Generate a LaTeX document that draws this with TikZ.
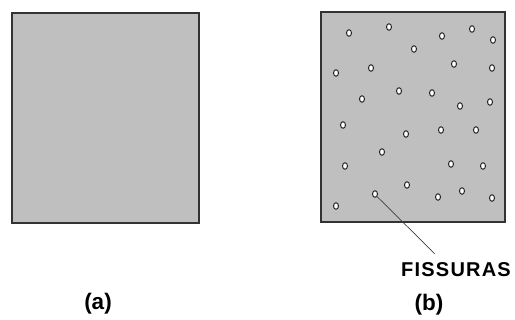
\documentclass[tikz,border=0pt]{standalone}
\usepackage{fontspec}
\usetikzlibrary{shapes.geometric}
\setmainfont{Liberation Sans}
\newfontfamily\lblfont[LetterSpace=6]{Liberation Sans}
\begin{document}
\begin{tikzpicture}[x=1pt,y=-1pt,
  panel/.style={draw=black!80,line width=1.3pt,fill=black!25},
  pore/.style={draw=black!85,fill=white,line width=1pt,ellipse,inner sep=0pt,minimum width=5pt,minimum height=6.5pt},
  sublabel/.style={font=\bfseries\fontsize{22.5}{26}\selectfont,inner sep=0pt},
  leader/.style={draw=black!75,line width=0.7pt}]
\useasboundingbox (0,0) rectangle (515,320);
\draw[panel] (12,13) rectangle (199,223);
\draw[panel] (321,12) rectangle (505,222);
\foreach \i/\x/\y in {1/349/33,2/389/27,3/442/36,4/472/29,5/493/40,6/414/49,7/336/73,8/371/68,9/454/64,10/492/68,11/362/99,12/399/91,13/432/93,14/460/106,15/490/102,16/343/125,17/406/134,18/441/130,19/476/130,20/382/152,21/345/166,22/451/164,23/483/166,24/407/185,26/438/197,27/462/191,28/492/198,29/336/206}
  \node[pore] (p\i) at (\x,\y) {};
\node[pore] (p25) at (375,194) {};
\node[inner sep=0pt,font=\lblfont\bfseries\fontsize{20}{23}\selectfont,anchor=base] (fis) at (456,276.5) {FISSURAS};
\coordinate (lend) at (435,254);
\draw[leader] (p25.south east) -- (lend);
\node[sublabel] (a) at (98,303.5) {(a)};
\node[sublabel] (b) at (429,305) {(b)};
\end{tikzpicture}
\end{document}
